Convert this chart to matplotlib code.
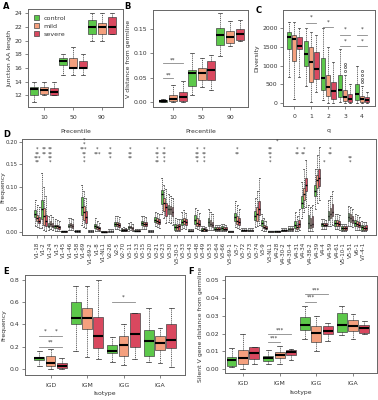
import matplotlib.pyplot as plt
from matplotlib.patches import Patch

# Data: each box is (whisker low, q1, median, q3, whisker high)
conditions = ['control', 'mild', 'severe']
colors = ['#5cc84a', '#f4a07e', '#d9485f']

# A - junction AA length
a_groups = ['10', '50', '90']
a_control = [(11, 12, 12.9, 13.2, 14), (15, 16.5, 17, 17.5, 18), (20, 21, 22, 23, 24)]
a_mild = [(12, 12.2, 12.8, 13.2, 14), (15, 16, 16, 17.5, 19), (20, 21, 22, 22.5, 24)]
a_severe = [(12, 12, 12.5, 13, 14), (15, 16, 16, 17, 18), (21, 21, 22, 23.5, 24)]

# B - V distance from germline
b_groups = ['10', '50', '90']
b_control = [(0.0, 0.0, 0.002, 0.005, 0.007), (0.015, 0.032, 0.060, 0.065, 0.100), (0.095, 0.118, 0.137, 0.152, 0.183)]
b_mild = [(0.0, 0.003, 0.007, 0.015, 0.035), (0.030, 0.045, 0.060, 0.070, 0.090), (0.115, 0.122, 0.134, 0.145, 0.167)]
b_severe = [(0.0, 0.003, 0.010, 0.020, 0.043), (0.024, 0.045, 0.066, 0.085, 0.097), (0.125, 0.127, 0.140, 0.150, 0.168)]

# C - diversity by q
c_groups = ['0', '1', '2', '3', '4']
c_control = [(700, 1430, 1750, 1900, 2150), (450, 980, 1300, 1650, 2000), (80, 350, 680, 1200, 2000),
             (20, 150, 360, 750, 1450), (0, 80, 240, 500, 1000)]
c_mild = [(100, 1120, 1700, 1800, 2150), (30, 550, 1100, 1500, 1900), (0, 180, 430, 750, 1500),
          (0, 60, 170, 350, 750), (0, 40, 100, 200, 450)]
c_severe = [(700, 1450, 1520, 1750, 2000), (300, 650, 900, 1350, 1800), (0, 120, 320, 550, 1100),
            (0, 30, 120, 250, 500), (0, 20, 80, 150, 300)]
c_mild_out = [[], [], [], [850, 950, 1050], [550, 650, 750, 850]]

# D - V gene frequency
genes = ['V1-18', 'V1-2', 'V1-24', 'V1-3', 'V1-45', 'V1-46', 'V1-58', 'V1-69', 'V1-69-2', 'V1-8',
         'V1-NL1', 'V2-26', 'V2-5', 'V2-70', 'V3-11', 'V3-13', 'V3-15', 'V3-20', 'V3-21', 'V3-23',
         'V3-30', 'V3-30-3', 'V3-33', 'V3-43', 'V3-48', 'V3-49', 'V3-53', 'V3-64', 'V3-66', 'V3-69-1',
         'V3-7', 'V3-72', 'V3-73', 'V3-74', 'V3-9', 'V3-NL1', 'V4-28', 'V4-30-2', 'V4-30-4', 'V4-31',
         'V4-34', 'V4-38-2', 'V4-39', 'V4-4', 'V4-59', 'V4-61', 'V5-10-1', 'V5-51', 'V6-1', 'V7-4-1']
d_control = [
    (0.013, 0.032, 0.040, 0.049, 0.070), (0.008, 0.028, 0.050, 0.072, 0.130), (0.004, 0.010, 0.014, 0.020, 0.035),
    (0.003, 0.008, 0.012, 0.016, 0.028), (0.000, 0.0005, 0.001, 0.0015, 0.003), (0.004, 0.010, 0.014, 0.018, 0.030),
    (0.000, 0.001, 0.002, 0.003, 0.005), (0.015, 0.038, 0.055, 0.078, 0.105), (0.000, 0.001, 0.002, 0.003, 0.005),
    (0.003, 0.009, 0.013, 0.018, 0.030), (0.000, 0.0002, 0.0005, 0.001, 0.002), (0.000, 0.001, 0.002, 0.003, 0.006),
    (0.006, 0.013, 0.017, 0.022, 0.035), (0.001, 0.003, 0.004, 0.006, 0.009), (0.003, 0.007, 0.010, 0.013, 0.020),
    (0.001, 0.002, 0.003, 0.004, 0.006), (0.007, 0.015, 0.020, 0.025, 0.036), (0.000, 0.001, 0.002, 0.003, 0.005),
    (0.012, 0.022, 0.027, 0.032, 0.045), (0.040, 0.061, 0.085, 0.094, 0.120), (0.022, 0.040, 0.050, 0.060, 0.085),
    (0.001, 0.004, 0.010, 0.018, 0.030), (0.006, 0.015, 0.022, 0.028, 0.045), (0.001, 0.002, 0.003, 0.004, 0.006),
    (0.008, 0.018, 0.027, 0.038, 0.053), (0.001, 0.003, 0.005, 0.008, 0.012), (0.005, 0.014, 0.022, 0.031, 0.050),
    (0.001, 0.004, 0.007, 0.010, 0.016), (0.001, 0.004, 0.008, 0.012, 0.018), (0.000, 0.0005, 0.001, 0.0015, 0.003),
    (0.010, 0.024, 0.033, 0.042, 0.068), (0.001, 0.003, 0.004, 0.005, 0.008), (0.001, 0.003, 0.004, 0.005, 0.008),
    (0.010, 0.027, 0.035, 0.046, 0.075), (0.005, 0.013, 0.020, 0.027, 0.040), (0.000, 0.0005, 0.001, 0.0015, 0.003),
    (0.000, 0.0005, 0.001, 0.0015, 0.003), (0.001, 0.003, 0.004, 0.005, 0.008), (0.002, 0.004, 0.006, 0.008, 0.012),
    (0.003, 0.009, 0.015, 0.024, 0.045), (0.030, 0.053, 0.065, 0.079, 0.110), (0.002, 0.009, 0.020, 0.038, 0.060),
    (0.050, 0.079, 0.090, 0.105, 0.140), (0.006, 0.013, 0.017, 0.020, 0.028), (0.012, 0.027, 0.035, 0.046, 0.070),
    (0.006, 0.013, 0.020, 0.027, 0.040), (0.002, 0.005, 0.008, 0.012, 0.018), (0.012, 0.024, 0.033, 0.042, 0.057),
    (0.005, 0.013, 0.019, 0.027, 0.040), (0.001, 0.005, 0.010, 0.016, 0.024)]
d_mild = [
    (0.010, 0.024, 0.030, 0.038, 0.060), (0.004, 0.016, 0.035, 0.053, 0.100), (0.006, 0.013, 0.018, 0.024, 0.038),
    (0.003, 0.008, 0.012, 0.015, 0.026), (0.000, 0.0005, 0.001, 0.0015, 0.003), (0.005, 0.011, 0.015, 0.019, 0.030),
    (0.000, 0.001, 0.002, 0.003, 0.005), (0.010, 0.027, 0.045, 0.057, 0.090), (0.000, 0.001, 0.002, 0.003, 0.005),
    (0.002, 0.007, 0.010, 0.014, 0.025), (0.000, 0.0002, 0.0005, 0.001, 0.002), (0.000, 0.001, 0.002, 0.003, 0.006),
    (0.007, 0.014, 0.018, 0.023, 0.036), (0.001, 0.003, 0.005, 0.006, 0.010), (0.004, 0.008, 0.011, 0.014, 0.022),
    (0.001, 0.002, 0.003, 0.004, 0.006), (0.006, 0.013, 0.018, 0.023, 0.035), (0.000, 0.001, 0.002, 0.003, 0.005),
    (0.010, 0.020, 0.025, 0.030, 0.042), (0.030, 0.046, 0.065, 0.075, 0.105), (0.020, 0.040, 0.050, 0.058, 0.080),
    (0.001, 0.004, 0.010, 0.016, 0.028), (0.008, 0.018, 0.025, 0.030, 0.048), (0.001, 0.002, 0.003, 0.004, 0.006),
    (0.006, 0.014, 0.020, 0.030, 0.048), (0.001, 0.003, 0.006, 0.008, 0.012), (0.005, 0.012, 0.018, 0.026, 0.045),
    (0.001, 0.004, 0.007, 0.010, 0.016), (0.001, 0.004, 0.007, 0.011, 0.017), (0.000, 0.0005, 0.001, 0.0015, 0.003),
    (0.008, 0.018, 0.025, 0.035, 0.060), (0.001, 0.003, 0.004, 0.005, 0.008), (0.001, 0.003, 0.004, 0.005, 0.008),
    (0.012, 0.025, 0.040, 0.055, 0.090), (0.003, 0.008, 0.010, 0.015, 0.030), (0.000, 0.0005, 0.001, 0.0015, 0.003),
    (0.000, 0.0005, 0.001, 0.0015, 0.003), (0.001, 0.003, 0.004, 0.005, 0.008), (0.002, 0.004, 0.006, 0.008, 0.012),
    (0.003, 0.007, 0.010, 0.016, 0.035), (0.045, 0.072, 0.085, 0.098, 0.140), (0.002, 0.009, 0.015, 0.030, 0.055),
    (0.065, 0.098, 0.115, 0.127, 0.170), (0.006, 0.012, 0.015, 0.019, 0.028), (0.012, 0.030, 0.040, 0.052, 0.080),
    (0.006, 0.014, 0.020, 0.027, 0.040), (0.002, 0.005, 0.008, 0.012, 0.018), (0.012, 0.022, 0.030, 0.040, 0.055),
    (0.005, 0.012, 0.017, 0.024, 0.038), (0.001, 0.004, 0.008, 0.014, 0.022)]
d_severe = [
    (0.008, 0.020, 0.025, 0.033, 0.055), (0.003, 0.013, 0.025, 0.038, 0.080), (0.004, 0.010, 0.014, 0.020, 0.032),
    (0.002, 0.007, 0.010, 0.014, 0.024), (0.000, 0.0005, 0.001, 0.0015, 0.003), (0.004, 0.009, 0.012, 0.017, 0.028),
    (0.000, 0.001, 0.002, 0.003, 0.005), (0.008, 0.020, 0.032, 0.046, 0.075), (0.000, 0.001, 0.002, 0.003, 0.005),
    (0.002, 0.005, 0.008, 0.011, 0.020), (0.000, 0.0002, 0.0005, 0.001, 0.002), (0.000, 0.001, 0.002, 0.003, 0.006),
    (0.005, 0.011, 0.015, 0.020, 0.032), (0.001, 0.003, 0.004, 0.006, 0.009), (0.002, 0.005, 0.008, 0.011, 0.018),
    (0.001, 0.002, 0.003, 0.004, 0.006), (0.006, 0.012, 0.017, 0.022, 0.033), (0.000, 0.001, 0.002, 0.003, 0.005),
    (0.008, 0.017, 0.022, 0.028, 0.040), (0.020, 0.035, 0.055, 0.064, 0.095), (0.015, 0.035, 0.045, 0.055, 0.075),
    (0.001, 0.005, 0.012, 0.018, 0.028), (0.006, 0.016, 0.022, 0.028, 0.042), (0.001, 0.002, 0.003, 0.004, 0.006),
    (0.005, 0.012, 0.018, 0.026, 0.042), (0.001, 0.002, 0.005, 0.007, 0.011), (0.004, 0.010, 0.015, 0.022, 0.040),
    (0.001, 0.004, 0.007, 0.010, 0.016), (0.001, 0.004, 0.007, 0.010, 0.016), (0.000, 0.0005, 0.001, 0.0015, 0.003),
    (0.007, 0.016, 0.022, 0.030, 0.050), (0.001, 0.003, 0.004, 0.005, 0.008), (0.001, 0.003, 0.004, 0.005, 0.008),
    (0.015, 0.038, 0.050, 0.068, 0.120), (0.002, 0.007, 0.008, 0.013, 0.025), (0.000, 0.0005, 0.001, 0.0015, 0.003),
    (0.000, 0.0005, 0.001, 0.0015, 0.003), (0.001, 0.003, 0.004, 0.005, 0.008), (0.002, 0.004, 0.006, 0.008, 0.012),
    (0.004, 0.010, 0.018, 0.026, 0.050), (0.055, 0.090, 0.105, 0.120, 0.160), (0.003, 0.010, 0.018, 0.035, 0.060),
    (0.070, 0.101, 0.120, 0.139, 0.190), (0.006, 0.012, 0.016, 0.019, 0.026), (0.015, 0.035, 0.045, 0.061, 0.090),
    (0.005, 0.012, 0.018, 0.025, 0.038), (0.002, 0.005, 0.008, 0.012, 0.018), (0.010, 0.020, 0.027, 0.035, 0.050),
    (0.004, 0.010, 0.015, 0.021, 0.034), (0.001, 0.005, 0.009, 0.015, 0.022)]
# significance marks in D: gene index, rows (top to bottom at 0.184, 0.174, 0.165, 0.156)
d_sig_genes = [0, 1, 2, 7, 9, 11, 14, 18, 19, 24, 25, 30, 35, 39, 40, 43, 44, 47]
d_sig_marks = [['*', '**', '***', '**'], ['**', '**', '', ''], ['**', '**', '**', '*'], ['***', '**', '*', '*'],
               ['*', '***', '', ''], ['*', '**', '*', ''], ['*', '**', '**', ''], ['*', '**', '*', '**'],
               ['*', '**', '*', '*'], ['*', '**', '**', '*'], ['*', '**', '*', '*'], ['*', '**', '', ''],
               ['**', '**', '*', '*'], ['*', '**', '', ''], ['*', '**', '', ''], ['', '', '', '*'],
               ['*', '**', '', ''], ['', '', '**', '*']]
d_sig_rows = [0.184, 0.174, 0.165, 0.156]

# E - isotype frequency
isotypes = ['IGD', 'IGM', 'IGG', 'IGA']
e_control = [(0.03, 0.08, 0.095, 0.11, 0.16), (0.16, 0.40, 0.455, 0.60, 0.75), (0.06, 0.14, 0.16, 0.22, 0.29),
             (0.06, 0.12, 0.25, 0.35, 0.55)]
e_mild = [(0.0, 0.03, 0.055, 0.12, 0.18), (0.11, 0.36, 0.46, 0.55, 0.75), (0.04, 0.12, 0.22, 0.30, 0.40),
          (0.05, 0.17, 0.235, 0.30, 0.37)]
e_severe = [(0.0, 0.01, 0.025, 0.05, 0.10), (0.09, 0.19, 0.30, 0.47, 0.80), (0.09, 0.20, 0.315, 0.50, 0.50),
            (0.02, 0.19, 0.26, 0.40, 0.55)]

# F - silent V gene distance
f_control = [(0.001, 0.002, 0.005, 0.007, 0.012), (0.003, 0.0045, 0.006, 0.0075, 0.011),
             (0.017, 0.022, 0.025, 0.0295, 0.0355), (0.019, 0.021, 0.025, 0.0315, 0.0355)]
f_mild = [(0.0, 0.003, 0.0065, 0.011, 0.020), (0.003, 0.0065, 0.008, 0.0095, 0.013),
          (0.010, 0.0155, 0.0205, 0.024, 0.030), (0.017, 0.0215, 0.024, 0.0275, 0.031)]
f_severe = [(0.003, 0.0055, 0.009, 0.0125, 0.0125), (0.005, 0.008, 0.0095, 0.011, 0.0115),
            (0.016, 0.0195, 0.0215, 0.024, 0.026), (0.0195, 0.0205, 0.023, 0.025, 0.027)]

edge = '#444444'
txt = '#333333'
FS = 4.4


def draw_boxes(ax, series, offset, width, fliers=None, mlw=1.5):
    n = len(series[0])
    for k, (vals, col) in enumerate(zip(series, colors)):
        stats = []
        for i, (lo, q1, med, q3, hi) in enumerate(vals):
            fl = []
            if fliers is not None and fliers[k] is not None:
                fl = fliers[k][i]
            stats.append(dict(whislo=lo, q1=q1, med=med, q3=q3, whishi=hi, fliers=fl))
        pos = [i + 1 + (k - 1) * offset for i in range(n)]
        ax.bxp(stats, positions=pos, widths=width, patch_artist=True, manage_ticks=False,
               boxprops=dict(facecolor=col, edgecolor=edge, linewidth=0.5),
               medianprops=dict(color='black', linewidth=mlw, solid_capstyle='butt'),
               whiskerprops=dict(color='#222222', linewidth=0.5, linestyle=(0, (1.5, 1.2))),
               capprops=dict(color='#222222', linewidth=0.5),
               flierprops=dict(marker='o', markersize=1.6, markerfacecolor='none',
                               markeredgecolor='#222222', markeredgewidth=0.4))


def style(ax, xlabels, xlabel, ylabel, xlab_y=None, ylab_x=None, fs=FS):
    ax.set_xticks(range(1, len(xlabels) + 1))
    ax.set_xticklabels(xlabels, fontsize=fs, color=txt)
    ax.tick_params(axis='both', length=2, width=0.5, colors='#555555', labelcolor=txt, labelsize=fs, pad=2)
    ax.tick_params(axis='x', pad=4)
    for s in ax.spines.values():
        s.set_color('#666666')
        s.set_linewidth(0.7)
    if xlabel:
        ax.set_xlabel(xlabel, fontsize=fs, color=txt, labelpad=6)
        if xlab_y is not None:
            ax.xaxis.set_label_coords(0.5, xlab_y)
            ax.xaxis.label.set_va('center')
    ax.set_ylabel(ylabel, fontsize=fs, color=txt, labelpad=2)
    if ylab_x is not None:
        ax.yaxis.set_label_coords(ylab_x, 0.5)
        ax.yaxis.label.set_va('center')


def sig(ax, x1, x2, y, label, dy):
    ax.plot([x1, x2], [y, y], color='#888888', lw=0.6)
    ax.text((x1 + x2) / 2, y + dy, label, ha='center', va='center', fontsize=4.0, color=txt)


fig = plt.figure(figsize=(3.78, 4.0), dpi=100)
fig.patch.set_facecolor('white')

# A
ax_a = fig.add_axes([0.074, 0.7325, 0.251, 0.245])
draw_boxes(ax_a, [a_control, a_mild, a_severe], 0.345, 0.28)
ax_a.set_xlim(0.45, 3.72)
ax_a.set_ylim(10.3, 24.6)
ax_a.set_yticks([12, 14, 16, 18, 20, 22, 24])
style(ax_a, a_groups, 'Precentile', 'Junction AA length')
ax_a.legend(handles=[Patch(facecolor=c, edgecolor=edge, lw=0.5, label=l) for c, l in zip(colors, conditions)],
            loc='upper left', fontsize=4.6, frameon=False, handlelength=0.9, handleheight=0.9,
            handletextpad=0.6, labelspacing=0.35, borderaxespad=0.5, labelcolor=txt)

# B
ax_b = fig.add_axes([0.405, 0.7325, 0.251, 0.2425])
draw_boxes(ax_b, [b_control, b_mild, b_severe], 0.345, 0.28)
ax_b.set_xlim(0.3, 3.63)
ax_b.set_ylim(-0.0103, 0.189)
ax_b.set_yticks([0.0, 0.05, 0.10, 0.15])
ax_b.set_yticklabels(['0.00', '0.05', '0.10', '0.15'])
style(ax_b, b_groups, 'Precentile', 'V distance from germline')
sig(ax_b, 0.66, 1.0, 0.049, '**', 0.006)
sig(ax_b, 0.66, 1.34, 0.081, '**', 0.006)

# C
ax_c = fig.add_axes([0.749, 0.735, 0.243, 0.24])
draw_boxes(ax_c, [c_control, c_mild, c_severe], 0.3, 0.27, fliers=[None, c_mild_out, None])
ax_c.set_xlim(0.35, 5.76)
ax_c.set_ylim(-80, 2480)
ax_c.set_yticks([0, 500, 1000, 1500, 2000])
style(ax_c, c_groups, 'q', 'Diversity')
sig(ax_c, 1.7, 2.3, 2141, '*', 150)
sig(ax_c, 2.7, 3.3, 2018, '*', 130)
sig(ax_c, 3.7, 4.3, 1813, '*', 150)
sig(ax_c, 3.7, 4.3, 1520, '*', 140)
sig(ax_c, 4.7, 5.3, 1813, '*', 150)
sig(ax_c, 4.7, 5.3, 1520, '*', 140)

# D
ax_d = fig.add_axes([0.058, 0.4125, 0.937, 0.24])
draw_boxes(ax_d, [d_control, d_mild, d_severe], 0.3, 0.27, mlw=1.0)
ax_d.set_xlim(-1.3, 51.85)
ax_d.set_ylim(-0.007, 0.2067)
ax_d.set_yticks([0.0, 0.05, 0.10, 0.15, 0.20])
ax_d.set_yticklabels(['0.00', '0.05', '0.10', '0.15', '0.20'])
style(ax_d, genes, None, 'Frequency', ylab_x=-0.053)
ax_d.tick_params(axis='x', labelrotation=90, labelsize=4.0, pad=3)
ax_d.tick_params(axis='y', pad=1.2, labelsize=3.9)
for g, marks in zip(d_sig_genes, d_sig_marks):
    for y, m in zip(d_sig_rows, marks):
        if m:
            ax_d.text(g + 1, y, m, ha='center', va='center', fontsize=3.6, color=txt)
ax_d.text(8, 0.196, '*', ha='center', va='center', fontsize=3.6, color=txt)
ax_d.text(8, 0.205, '*', ha='center', va='center', fontsize=3.6, color=txt, clip_on=False)
ax_d.text(37, 0.203, '*', ha='center', va='center', fontsize=3.6, color=txt, clip_on=False)

# E
ax_e = fig.add_axes([0.066, 0.0625, 0.423, 0.25])
draw_boxes(ax_e, [e_control, e_mild, e_severe], 0.31, 0.27)
ax_e.set_xlim(0.3, 4.68)
ax_e.set_ylim(-0.054, 0.845)
ax_e.set_yticks([0.0, 0.2, 0.4, 0.6, 0.8])
style(ax_e, isotypes, 'Isotype', 'Frequency', xlab_y=-0.185)
sig(ax_e, 0.69, 1.0, 0.30, '*', 0.045)
sig(ax_e, 1.0, 1.31, 0.30, '*', 0.045)
sig(ax_e, 0.69, 1.31, 0.20, '**', 0.045)
sig(ax_e, 2.69, 3.31, 0.606, '*', 0.045)

# F
ax_f = fig.add_axes([0.595, 0.0675, 0.402, 0.2425])
draw_boxes(ax_f, [f_control, f_mild, f_severe], 0.31, 0.27)
ax_f.set_xlim(0.51, 4.65)
ax_f.set_ylim(-0.0022, 0.0524)
ax_f.set_yticks([0.0, 0.01, 0.02, 0.03, 0.04, 0.05])
ax_f.set_yticklabels(['0.00', '0.01', '0.02', '0.03', '0.04', '0.05'])
style(ax_f, isotypes, 'Isotype', 'Silent V gene distance from germline', xlab_y=-0.205)
sig(ax_f, 1.69, 2.0, 0.015, '***', 0.0025)
sig(ax_f, 1.69, 2.31, 0.0195, '***', 0.0025)
sig(ax_f, 2.69, 3.0, 0.038, '***', 0.0025)
sig(ax_f, 2.69, 3.31, 0.042, '***', 0.0025)

# panel letters
for lab, x, y in [('A', 0.008, 0.995), ('B', 0.33, 0.995), ('C', 0.675, 0.985), ('D', 0.008, 0.675),
                  ('E', 0.008, 0.333), ('F', 0.497, 0.333)]:
    fig.text(x, y, lab, fontsize=6, fontweight='bold', va='top', ha='left')

fig.savefig('out.png', dpi=100)
